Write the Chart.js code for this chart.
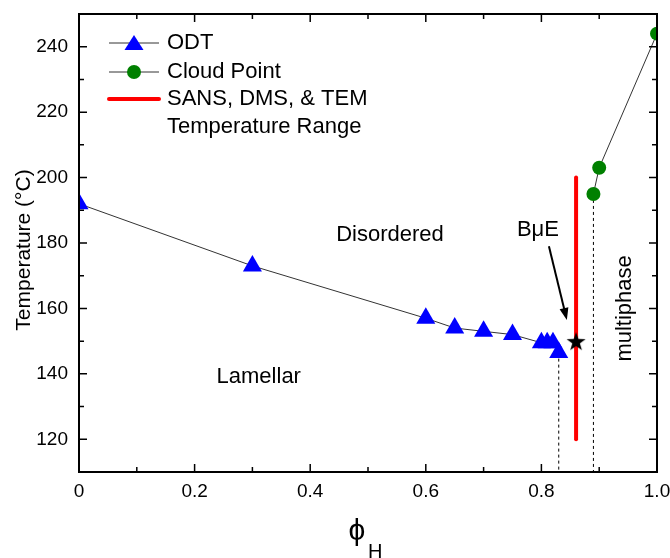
<!DOCTYPE html>
<html>
<head>
<meta charset="utf-8">
<title>Phase diagram</title>
<script src="https://cdn.jsdelivr.net/npm/chart.js@4"></script>
<style>
body{margin:0;background:#fff;}
</style>
</head>
<body>
<canvas id="c" width="670" height="558"></canvas>
<script>
// data
var odtPhi = [0, 0.3, 0.6, 0.65, 0.7, 0.75, 0.8, 0.81, 0.82, 0.83];
var odtTemp = [192, 173, 157, 154, 153, 152, 149.5, 149.5, 149.5, 146.5];
var cloudPhi = [0.89, 0.9, 1.0];
var cloudTemp = [195, 203, 244];
var rangePhi = [0.86, 0.86];
var rangeTemp = [120, 200];
var bmePhi = [0.86];
var bmeTemp = [150];
var xTicks = [0, 0.2, 0.4, 0.6, 0.8, 1.0];
var xTickLabels = ['0', '0.2', '0.4', '0.6', '0.8', '1.0'];
var yTicks = [120, 140, 160, 180, 200, 220, 240];
var xMinor = [0.1, 0.3, 0.5, 0.7, 0.9];
var yMinor = [130, 150, 170, 190, 210, 230];

var FONT = 'Arial, "Liberation Sans", sans-serif';

function pts(xs, ys) {
  return xs.map(function (x, i) { return {x: x, y: ys[i]}; });
}

// filled star for the BuE point
var star = document.createElement('canvas');
star.width = 22; star.height = 22;
(function () {
  var s = star.getContext('2d');
  s.beginPath();
  for (var i = 0; i < 10; i++) {
    var r = i % 2 ? 4 : 10;
    var a = -Math.PI / 2 + i * Math.PI / 5;
    s.lineTo(11 + r * Math.cos(a), 12 + r * Math.sin(a));
  }
  s.closePath();
  s.fillStyle = '#000';
  s.fill();
})();

var lastOdt = odtPhi.length - 1;

var deco = {
  id: 'deco',
  afterDraw: function (chart) {
    var ctx = chart.ctx, a = chart.chartArea;
    var xs = chart.scales.x, ys = chart.scales.y;
    ctx.save();
    // frame
    ctx.strokeStyle = '#000';
    ctx.lineWidth = 2;
    ctx.strokeRect(a.left, a.top, a.right - a.left, a.bottom - a.top);
    // inward ticks on all four sides
    ctx.lineWidth = 1.5;
    ctx.beginPath();
    function xt(v, len) {
      var p = xs.getPixelForValue(v);
      ctx.moveTo(p, a.bottom); ctx.lineTo(p, a.bottom - len);
      ctx.moveTo(p, a.top); ctx.lineTo(p, a.top + len);
    }
    function yt(v, len) {
      var p = ys.getPixelForValue(v);
      ctx.moveTo(a.left, p); ctx.lineTo(a.left + len, p);
      ctx.moveTo(a.right, p); ctx.lineTo(a.right - len, p);
    }
    xTicks.forEach(function (v) { xt(v, 8); });
    xMinor.forEach(function (v) { xt(v, 5); });
    yTicks.forEach(function (v) { yt(v, 8); });
    yMinor.forEach(function (v) { yt(v, 5); });
    ctx.stroke();

    // tick labels
    ctx.fillStyle = '#000';
    ctx.font = '19px ' + FONT;
    ctx.textAlign = 'center';
    ctx.textBaseline = 'middle';
    xTicks.forEach(function (v, i) {
      ctx.fillText(xTickLabels[i], xs.getPixelForValue(v), a.bottom + 20);
    });
    ctx.textAlign = 'right';
    yTicks.forEach(function (v) {
      ctx.fillText(String(v), a.left - 11, ys.getPixelForValue(v));
    });

    // region labels
    ctx.font = '22px ' + FONT;
    ctx.textAlign = 'center';
    ctx.fillText('Disordered', xs.getPixelForValue(0.538), ys.getPixelForValue(182.6));
    ctx.fillText('Lamellar', xs.getPixelForValue(0.311), ys.getPixelForValue(139));
    ctx.fillText('B\u03bcE', xs.getPixelForValue(0.794), ys.getPixelForValue(184));
    ctx.save();
    ctx.translate(xs.getPixelForValue(0.945), ys.getPixelForValue(160));
    ctx.rotate(-Math.PI / 2);
    ctx.fillText('multiphase', 0, 0);
    ctx.restore();

    // arrow to the BuE point
    var x1 = xs.getPixelForValue(0.813), y1 = ys.getPixelForValue(179);
    var x2 = xs.getPixelForValue(0.844), y2 = ys.getPixelForValue(156.5);
    var ang = Math.atan2(y2 - y1, x2 - x1);
    ctx.lineWidth = 2;
    ctx.beginPath();
    ctx.moveTo(x1, y1);
    ctx.lineTo(x2 - 8 * Math.cos(ang), y2 - 8 * Math.sin(ang));
    ctx.stroke();
    ctx.beginPath();
    ctx.moveTo(x2, y2);
    ctx.lineTo(x2 - 12 * Math.cos(ang) + 4.5 * Math.sin(ang), y2 - 12 * Math.sin(ang) - 4.5 * Math.cos(ang));
    ctx.lineTo(x2 - 12 * Math.cos(ang) - 4.5 * Math.sin(ang), y2 - 12 * Math.sin(ang) + 4.5 * Math.cos(ang));
    ctx.closePath();
    ctx.fill();

    // axis titles
    ctx.save();
    ctx.translate(24, 250);
    ctx.rotate(-Math.PI / 2);
    ctx.font = '21px ' + FONT;
    ctx.fillText('Temperature (\u00b0C)', 0, 0);
    ctx.restore();
    ctx.font = '30px ' + FONT;
    ctx.textAlign = 'center';
    ctx.fillText('\u03d5', 357, 532);
    ctx.font = '20px ' + FONT;
    ctx.textAlign = 'left';
    ctx.textBaseline = 'top';
    ctx.fillText('H', 368, 542);

    // legend
    var lx0 = 109, lx1 = 159, tx = 167;
    var rows = [43, 72, 99, 127];
    ctx.textBaseline = 'middle';
    ctx.font = '22px ' + FONT;
    ctx.lineWidth = 1;
    ctx.strokeStyle = '#333';
    [0, 1].forEach(function (i) {
      ctx.beginPath();
      ctx.moveTo(lx0, rows[i]); ctx.lineTo(lx1, rows[i]);
      ctx.stroke();
    });
    var ds = chart.data.datasets;
    ctx.fillStyle = ds[0].pointBackgroundColor;
    ctx.beginPath();
    ctx.moveTo(134, rows[0] - 8);
    ctx.lineTo(143.5, rows[0] + 7);
    ctx.lineTo(124.5, rows[0] + 7);
    ctx.closePath();
    ctx.fill();
    ctx.fillStyle = ds[1].pointBackgroundColor;
    ctx.beginPath();
    ctx.arc(134, rows[1], 7, 0, Math.PI * 2);
    ctx.fill();
    ctx.strokeStyle = ds[2].borderColor;
    ctx.lineWidth = 4;
    ctx.lineCap = 'round';
    ctx.beginPath();
    ctx.moveTo(lx0, rows[2]); ctx.lineTo(lx1, rows[2]);
    ctx.stroke();
    ctx.fillStyle = '#000';
    ctx.fillText('ODT', tx, rows[0]);
    ctx.fillText('Cloud Point', tx, rows[1]);
    ctx.fillText('SANS, DMS, & TEM', tx, rows[2]);
    ctx.fillText('Temperature Range', tx, rows[3]);
    ctx.restore();
  }
};

new Chart(document.getElementById('c'), {
  type: 'scatter',
  data: {
    datasets: [{
      label: 'ODT',
      data: pts(odtPhi, odtTemp),
      showLine: true,
      borderColor: '#333',
      borderWidth: 1,
      pointStyle: 'triangle',
      pointRadius: 11,
      pointBackgroundColor: '#0000ff',
      pointBorderColor: '#0000ff',
      pointBorderWidth: 0,
      clip: 0,
      order: 2
    }, {
      label: 'Cloud Point',
      data: pts(cloudPhi, cloudTemp),
      showLine: true,
      borderColor: '#333',
      borderWidth: 1,
      pointStyle: 'circle',
      pointRadius: 7,
      pointBackgroundColor: '#008000',
      pointBorderColor: '#008000',
      pointBorderWidth: 0,
      clip: 0,
      order: 2
    }, {
      label: 'SANS, DMS, & TEM Temperature Range',
      data: pts(rangePhi, rangeTemp),
      showLine: true,
      borderColor: '#ff0000',
      borderWidth: 4,
      borderCapStyle: 'round',
      pointRadius: 0,
      order: 1
    }, {
      label: 'ODT drop',
      data: [{x: odtPhi[lastOdt], y: odtTemp[lastOdt]}, {x: odtPhi[lastOdt], y: 110}],
      showLine: true,
      borderColor: '#000',
      borderWidth: 1,
      borderDash: [3, 3],
      pointRadius: 0,
      order: 3
    }, {
      label: 'Cloud drop',
      data: [{x: cloudPhi[0], y: cloudTemp[0]}, {x: cloudPhi[0], y: 110}],
      showLine: true,
      borderColor: '#000',
      borderWidth: 1,
      borderDash: [3, 3],
      pointRadius: 0,
      order: 3
    }, {
      label: 'BuE',
      data: pts(bmePhi, bmeTemp),
      pointStyle: star,
      pointRadius: 10,
      order: 0
    }]
  },
  options: {
    responsive: false,
    animation: false,
    layout: {padding: {top: 14, right: 13, left: 0, bottom: 0}},
    plugins: {legend: {display: false}, tooltip: {enabled: false}},
    scales: {
      x: {
        type: 'linear', min: 0, max: 1,
        grid: {display: false, drawTicks: false},
        border: {display: false},
        afterFit: function (s) { s.height = 86; },
        ticks: {display: false}
      },
      y: {
        type: 'linear', min: 110, max: 250,
        grid: {display: false, drawTicks: false},
        border: {display: false},
        afterFit: function (s) { s.width = 79; },
        ticks: {display: false}
      }
    }
  },
  plugins: [deco]
});
</script>
</body>
</html>
